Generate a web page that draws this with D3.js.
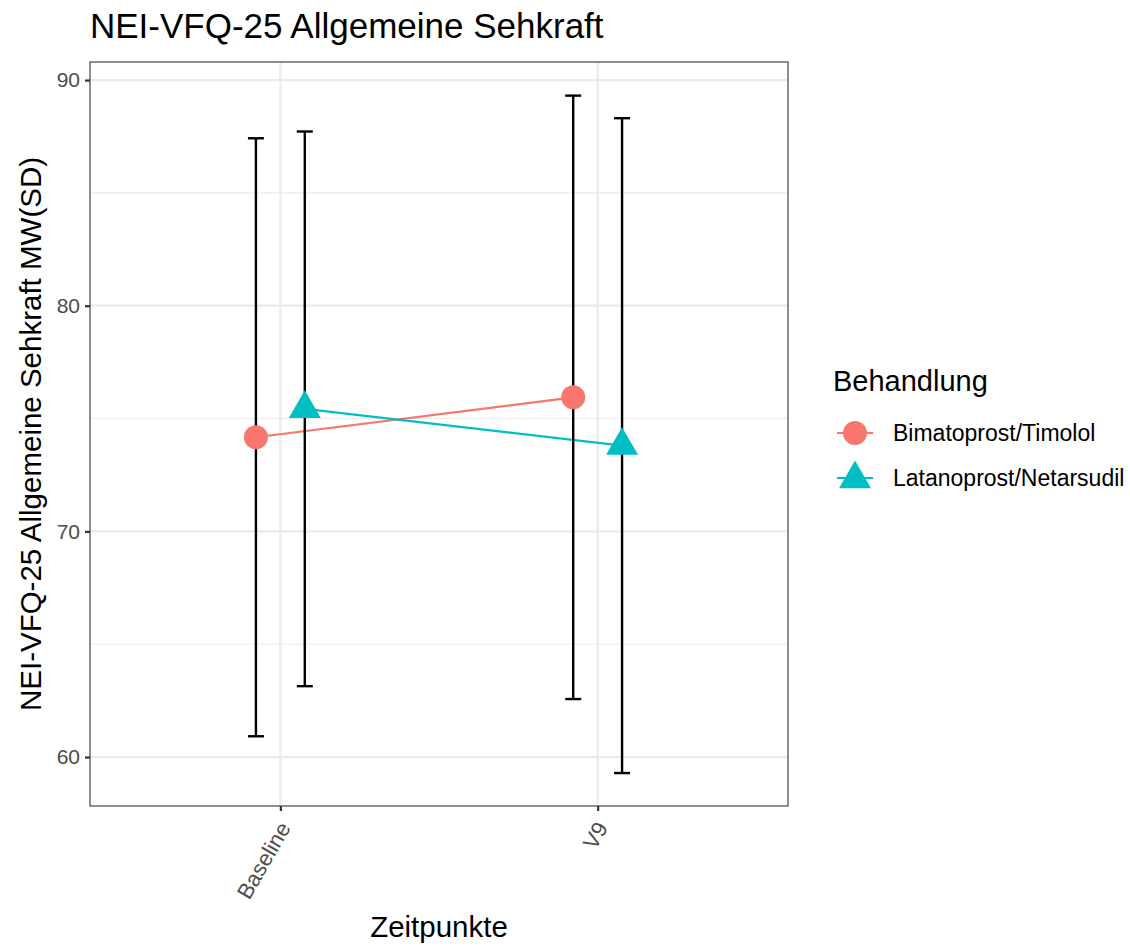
<!DOCTYPE html>
<html><head><meta charset="utf-8">
<script src="https://cdn.jsdelivr.net/npm/d3@7"></script>
<style>body{margin:0;background:#fff}svg{font-family:"Liberation Sans",Arial,sans-serif}</style>
</head><body><svg id="c" width="1130" height="949"></svg>
<script>
const timepoints = ["Baseline", "V9"];
const groups = ["Bimatoprost/Timolol", "Latanoprost/Netarsudil"];
const colors = ["#F8766D", "#00BFC4"];
const meanBim = [74.17, 75.94];
const sdBim = [13.25, 13.37];
const meanLat = [75.43, 73.80];
const sdLat = [12.29, 14.51];
const yTicks = [60, 70, 80, 90];
const yMinor = [65, 75, 85];

const series = [
  {name: groups[0], color: colors[0], shape: "circle", dodge: -1,
   pts: timepoints.map((t,i)=>({t, m: meanBim[i], sd: sdBim[i]}))},
  {name: groups[1], color: colors[1], shape: "triangle", dodge: 1,
   pts: timepoints.map((t,i)=>({t, m: meanLat[i], sd: sdLat[i]}))}
];

const svg = d3.select("#c");
const L = 90, R = 788, T = 62, B = 806;
// discrete expansion: 0.6 units each side of 2 categories
const xs = d3.scaleLinear().domain([0.4, 2.6]).range([L, R]);
const xPos = t => xs(timepoints.indexOf(t) + 1);
const dodgeUnits = 0.077;
const y = d3.scaleLinear().domain([57.83, 90.8]).range([B, T]);

svg.append("rect").attr("x", L).attr("y", T).attr("width", R-L).attr("height", B-T).attr("fill", "#fff");
const g = svg.append("g");
yMinor.forEach(v => g.append("line").attr("x1", L).attr("x2", R).attr("y1", y(v)).attr("y2", y(v)).attr("stroke", "#EBEBEB").attr("stroke-width", 1.1));
yTicks.forEach(v => g.append("line").attr("x1", L).attr("x2", R).attr("y1", y(v)).attr("y2", y(v)).attr("stroke", "#EBEBEB").attr("stroke-width", 2.2));
timepoints.forEach(t => g.append("line").attr("x1", xPos(t)).attr("x2", xPos(t)).attr("y1", T).attr("y2", B).attr("stroke", "#EBEBEB").attr("stroke-width", 2.2));

series.forEach(s => {
  const line = d3.line().x(d => xs(timepoints.indexOf(d.t)+1 + s.dodge*dodgeUnits)).y(d => y(d.m));
  svg.append("path").datum(s.pts).attr("d", line).attr("fill", "none").attr("stroke", s.color).attr("stroke-width", 2.2);
});
series.forEach(s => {
  s.pts.forEach(d => {
    const cx = xs(timepoints.indexOf(d.t)+1 + s.dodge*dodgeUnits);
    const eg = svg.append("g").attr("stroke", "#000").attr("stroke-width", 2.4);
    eg.append("line").attr("x1", cx).attr("x2", cx).attr("y1", y(d.m+d.sd)).attr("y2", y(d.m-d.sd));
    eg.append("line").attr("x1", cx-8).attr("x2", cx+8).attr("y1", y(d.m+d.sd)).attr("y2", y(d.m+d.sd));
    eg.append("line").attr("x1", cx-8).attr("x2", cx+8).attr("y1", y(d.m-d.sd)).attr("y2", y(d.m-d.sd));
  });
});
const triPath = (cx, cy, s) => { const h = s*Math.sqrt(3)/2; return `M${cx},${cy-h*2/3}L${cx+s/2},${cy+h/3}L${cx-s/2},${cy+h/3}Z`; };
series.forEach(s => {
  s.pts.forEach(d => {
    const cx = xs(timepoints.indexOf(d.t)+1 + s.dodge*dodgeUnits), cy = y(d.m);
    if (s.shape === "circle") svg.append("circle").attr("cx", cx).attr("cy", cy).attr("r", 12).attr("fill", s.color);
    else svg.append("path").attr("d", triPath(cx, cy, 32)).attr("fill", s.color);
  });
});

svg.append("rect").attr("x", L).attr("y", T).attr("width", R-L).attr("height", B-T).attr("fill", "none").attr("stroke", "#333").attr("stroke-width", 1.1);

const ya = svg.append("g").attr("transform", `translate(${L},0)`).call(d3.axisLeft(y).tickValues(yTicks).tickSize(5).tickPadding(5));
ya.select(".domain").remove();
ya.selectAll(".tick line").attr("stroke", "#333").attr("stroke-width", 2.2);
ya.selectAll(".tick text").attr("fill", "#4D4D4D").style("font-size", "21px").style("font-family", "Liberation Sans, Arial, sans-serif");

const xa = svg.append("g").attr("transform", `translate(0,${B})`).call(d3.axisBottom(xs).tickValues([1,2]).tickFormat(d => timepoints[d-1]).tickSize(5).tickPadding(0));
xa.select(".domain").remove();
xa.selectAll(".tick line").attr("stroke", "#333").attr("stroke-width", 2.2);
xa.selectAll(".tick text").attr("fill", "#4D4D4D").style("font-size", "22px").style("font-family", "Liberation Sans, Arial, sans-serif")
  .attr("text-anchor", "end").attr("dy", null).attr("y", 0).attr("x", 0)
  .attr("transform", "translate(4,18) rotate(-60)").attr("dominant-baseline", "central");

svg.append("text").attr("x", L).attr("y", 38).text("NEI-VFQ-25 Allgemeine Sehkraft").style("font-size", "35px").attr("fill", "#000");
svg.append("text").attr("x", (L+R)/2).attr("y", 937).attr("text-anchor", "middle").text("Zeitpunkte").style("font-size", "29.5px").attr("fill", "#000");
svg.append("text").attr("transform", `translate(41,${(T+B)/2}) rotate(-90)`).attr("text-anchor", "middle").text("NEI-VFQ-25 Allgemeine Sehkraft MW(SD)").style("font-size", "29.5px").attr("fill", "#000");

const lg = svg.append("g");
lg.append("text").attr("x", 833).attr("y", 391).text("Behandlung").style("font-size", "29px");
series.forEach((s, i) => {
  const cy = 433 + i*45;
  lg.append("line").attr("x1", 837).attr("x2", 873).attr("y1", cy).attr("y2", cy).attr("stroke", s.color).attr("stroke-width", 2.2);
  if (s.shape === "circle") lg.append("circle").attr("cx", 855).attr("cy", cy).attr("r", 12).attr("fill", s.color);
  else lg.append("path").attr("d", triPath(855, cy+1, 32)).attr("fill", s.color);
  lg.append("text").attr("x", 893).attr("y", cy).attr("dominant-baseline", "central").text(s.name).style("font-size", "23px").attr("fill", "#000");
});
</script></body></html>
